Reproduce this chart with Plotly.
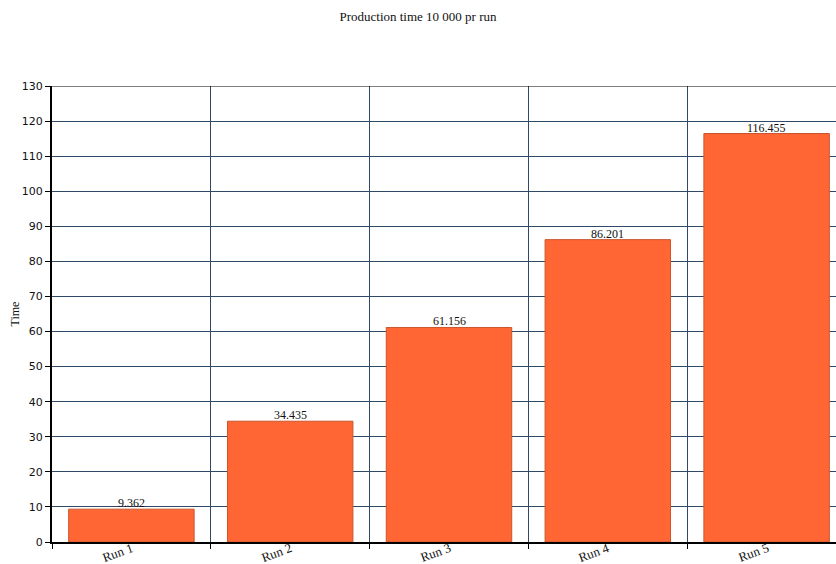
import plotly.graph_objects as go

categories = ["Run 1", "Run 2", "Run 3", "Run 4", "Run 5"]
values = [9.362, 34.435, 61.156, 86.201, 116.455]
labels = ["9.362", "34.435", "61.156", "86.201", "116.455"]
y_ticks = list(range(0, 131, 10))

serif = "Liberation Serif, Times New Roman, serif"
grid = "#2f4a66"

fig = go.Figure(go.Bar(
    x=categories, y=values,
    marker=dict(color="#ff6633", line=dict(color="#c9552e", width=1)),
    width=0.79,
))

fig.update_layout(
    width=836, height=564,
    margin=dict(l=52, r=0, t=86, b=22),
    paper_bgcolor="white", plot_bgcolor="white",
    title=dict(text="Production time 10 000 pr run", x=0.5, xanchor="center",
               y=1 - 16/564, yanchor="middle",
               font=dict(family=serif, size=13, color="#111")),
    showlegend=False,
    bargap=0.21,
)
fig.update_xaxes(
    type="category", range=[-0.5, 4.437], tickson="boundaries",
    showgrid=True, gridcolor=grid, gridwidth=1,
    showline=True, linecolor="black", linewidth=2,
    ticks="outside", ticklen=5, tickcolor="black",
    showticklabels=False,
    fixedrange=True, automargin=False,
)
fig.update_yaxes(
    range=[0, 130], tickvals=y_ticks,
    showgrid=True, gridcolor=grid, gridwidth=1,
    showline=True, linecolor="black", linewidth=2,
    ticks="outside", ticklen=5, tickcolor="black",
    tickfont=dict(family="DejaVu Sans, Verdana, sans-serif", size=11, color="#111"),
    title=dict(text="Time", font=dict(family=serif, size=12, color="#111"), standoff=0),
    zeroline=False, automargin=False,
)
fig.add_shape(type="line", xref="paper", yref="y", x0=0, x1=1, y0=130, y1=130,
              line=dict(color="black", width=1))

for c, v, t in zip(categories, values, labels):
    fig.add_annotation(x=c, y=v, xref="x", yref="y", text=t, showarrow=False,
                       xanchor="center", yanchor="bottom", yshift=-3,
                       font=dict(family=serif, size=12, color="#111"))
    fig.add_annotation(x=c, y=0, xref="x", yref="paper", text=c, showarrow=False,
                       xanchor="right", yanchor="top", yshift=3, xshift=5,
                       textangle=-20, borderpad=0,
                       font=dict(family=serif, size=13, color="#111"))

fig.write_html("out.html")
